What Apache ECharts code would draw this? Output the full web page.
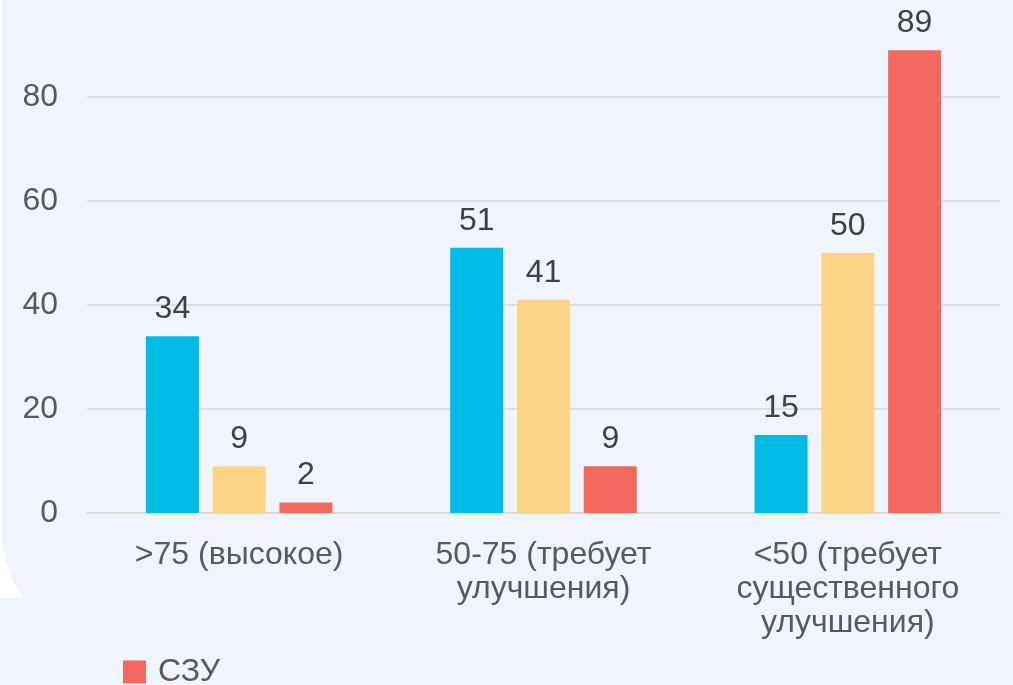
<!DOCTYPE html>
<html>
<head>
<meta charset="utf-8">
<script src="https://cdn.jsdelivr.net/npm/echarts@6/dist/echarts.min.js"></script>
<style>
html,body{margin:0;padding:0;background:#ffffff;}
#chart{width:1013px;height:685px;}
</style>
</head>
<body>
<div id="chart"></div>
<script>
const categories = ['>75 (высокое)', '50-75 (требует\nулучшения)', '<50 (требует\nсущественного\nулучшения)'];
const seriesNames = ['Ряд 1', 'Ряд 2', 'СЗУ'];
const blueValues = [34, 51, 15];
const yellowValues = [9, 41, 50];
const redValues = [2, 9, 89];
const yTicks = [0, 20, 40, 60, 80];
const yAxisMax = 98.65;

const colors = ['#00BBE6', '#FFD385', '#F2675E'];
const panel = '#EFF4FD';
const font = '"Liberation Sans", Arial, sans-serif';

const chart = echarts.init(document.getElementById('chart'));
const valueSets = [blueValues, yellowValues, redValues];
chart.setOption({
  backgroundColor: '#ffffff',
  textStyle: { fontFamily: font },
  graphic: [
    { type: 'rect', z: -10, silent: true,
      shape: { x: 2, y: -200, width: 1100, height: 850, r: [0, 0, 0, 120] },
      style: { fill: panel } },
    { type: 'rect', z: -10, silent: true,
      shape: { x: 0, y: 598, width: 1013, height: 100 },
      style: { fill: panel } }
  ],
  legend: {
    data: ['СЗУ'],
    left: 118, top: 651,
    itemWidth: 23, itemHeight: 23, icon: 'rect',
    textStyle: { fontSize: 32, color: '#595959', fontFamily: font, padding: [0, 0, 0, 7] }
  },
  grid: { left: 87, right: 13, top: 0, bottom: 172 },
  xAxis: {
    type: 'category',
    data: categories,
    axisLine: { lineStyle: { color: '#D9D9D9', width: 1.5 } },
    axisTick: { show: false },
    axisLabel: { color: '#595959', fontSize: 32, lineHeight: 34, margin: 25, fontFamily: font, interval: 0 }
  },
  yAxis: {
    type: 'value', min: yTicks[0], max: yAxisMax, interval: 20,
    axisLine: { show: false }, axisTick: { show: false },
    splitLine: { showMaxLine: false, lineStyle: { color: '#D9D9D9', width: 1.5 } },
    axisLabel: { color: '#595959', fontSize: 32, margin: 29, fontFamily: font, showMaxLabel: false,
      formatter: v => (yTicks.indexOf(v) >= 0 ? String(v) : '') }
  },
  series: seriesNames.map((name, i) => ({
    name, type: 'bar',
    data: valueSets[i],
    barWidth: 53, barGap: '26%',
    itemStyle: { color: colors[i] },
    label: { show: true, position: 'top', distance: 11, fontSize: 32, color: '#404040', fontFamily: font }
  }))
});
</script>
</body>
</html>
